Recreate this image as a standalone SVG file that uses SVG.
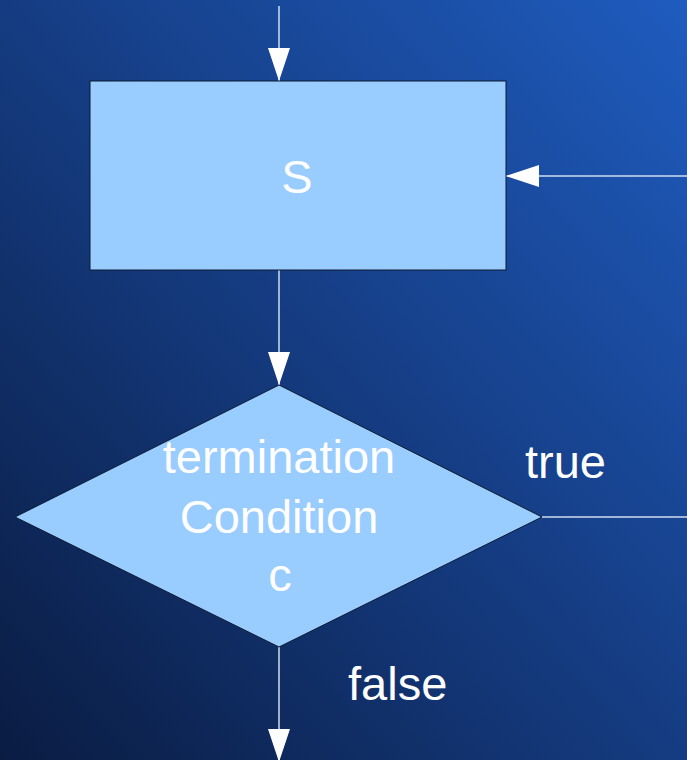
<svg xmlns="http://www.w3.org/2000/svg" width="687" height="760" viewBox="0 0 687 760">
<defs>
<linearGradient id="bg" x1="0" y1="1" x2="1" y2="0">
<stop offset="0" stop-color="#0a1c42"/>
<stop offset="0.5" stop-color="#153c82"/>
<stop offset="1" stop-color="#1f5cbf"/>
</linearGradient>
<marker id="ah" markerWidth="33" markerHeight="22" refX="33" refY="11" orient="auto" markerUnits="userSpaceOnUse">
<path d="M0,0 L33,11 L0,22 Z" fill="#ffffff"/>
</marker>
<style>
.shape{fill:#99ccff;stroke:#0d1a30;stroke-width:1}
.conn{stroke:#d0ddf0;stroke-width:1.5;fill:none}
.lbl{font-family:"Liberation Sans",Arial,sans-serif;font-size:47px;fill:#ffffff}
</style>
</defs>
<rect x="0" y="0" width="687" height="760" fill="url(#bg)"/>
<g id="connectors">
<line class="conn" x1="279" y1="6" x2="279" y2="81" marker-end="url(#ah)"/>
<line class="conn" x1="687" y1="176" x2="506" y2="176" marker-end="url(#ah)"/>
<line class="conn" x1="279" y1="270" x2="279" y2="385" marker-end="url(#ah)"/>
<line class="conn" x1="542" y1="517" x2="687" y2="517"/>
<line class="conn" x1="279" y1="647" x2="279" y2="762" marker-end="url(#ah)"/>
</g>
<g id="node-S">
<rect class="shape" x="90" y="81" width="416" height="189"/>
<text class="lbl" x="297" y="193" text-anchor="middle">S</text>
</g>
<g id="node-cond">
<polygon class="shape" points="279,385 542,517 279,647 15,517"/>
<text class="lbl" x="279" y="473" text-anchor="middle">termination</text>
<text class="lbl" x="279" y="533" text-anchor="middle">Condition</text>
<text class="lbl" x="280" y="591" text-anchor="middle">c</text>
</g>
<g id="labels">
<text class="lbl" x="525" y="478">true</text>
<text class="lbl" x="348" y="700">false</text>
</g>
</svg>
